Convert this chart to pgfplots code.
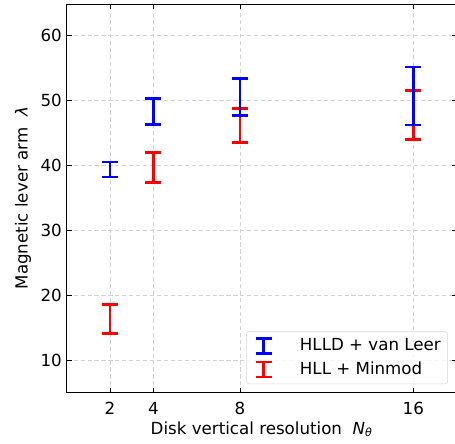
\documentclass[border=0pt]{standalone}
\usepackage{pgfplots}
\pgfplotsset{compat=1.18}
\usepackage{fontspec}
\setmainfont{DejaVu Sans}
\pgfplotstableread{
x y e
2 39.35 1.15
4 48.3 2.0
8 50.475 2.875
16 50.65 4.45
}\blue
\pgfplotstableread{
x y e
2 16.425 2.225
4 39.7 2.3
8 46.125 2.625
16 47.75 3.75
}\red
\begin{document}
\begin{tikzpicture}
\begin{axis}[
  name=ax,
  scale only axis,
  width=280.7pt, height=279.6pt,
  xmin=0, xmax=18, ymin=5.15, ymax=64.76,
  xtick={2,4,8,16}, ytick={10,20,30,40,50,60},
  tick align=inside, tick pos=both,
  major tick length=3.5pt,
  every tick/.style={black, line width=0.6pt},
  axis line style={line width=0.6pt},
  grid=major,
  grid style={gray!35, line width=0.6pt, dash pattern=on 3pt off 2pt},
  /pgf/number format/assume math mode=true,
  tick label style={font=\fontsize{12}{14}\selectfont},
  xticklabel style={yshift=-3.4pt},
  label style={font=\fontsize{12}{14}\selectfont},
  xlabel={Disk vertical resolution\ \ {\itshape N}\textsubscript{\itshape θ}},
  ylabel={Magnetic lever arm\ \ {\itshape λ}},
  x label style={at={(axis description cs:0.5,-0.0945)}, anchor=center},
  y label style={at={(axis description cs:-0.112,0.5)}, anchor=center},
  reverse legend,
  legend style={at={(1,0)}, anchor=south east, xshift=-6.2pt, yshift=6pt,
    draw=gray!30, rounded corners=2pt, fill=white, fill opacity=0.8, text opacity=1,
    font=\fontsize{12}{14}\selectfont, inner sep=3pt, row sep=2.6pt},
  legend cell align=left,
  legend image code/.code={
    \path (0pt,0pt) -- (33.6pt,0pt);
    \draw[line width=2pt] (9.6pt,-5.4pt) -- (9.6pt,5.4pt);
    \draw[line width=2pt] (3.8pt,-5.4pt) -- (15.4pt,-5.4pt);
    \draw[line width=2pt] (3.8pt,5.4pt) -- (15.4pt,5.4pt);
  },
]
\addplot[red, draw=none, mark=none,
  error bars/.cd, y dir=both, y explicit,
  error bar style={line width=2pt, red, solid},
  error mark options={rotate=90, mark size=5.8pt, line width=2pt, red}]
  table[x=x, y=y, y error=e]{\red};
\addlegendentry{HLL + Minmod}
\addplot[blue, draw=none, mark=none,
  error bars/.cd, y dir=both, y explicit,
  error bar style={line width=2pt, blue, solid},
  error mark options={rotate=90, mark size=5.8pt, line width=2pt, blue}]
  table[x=x, y=y, y error=e]{\blue};
\addlegendentry{HLLD + van Leer}
\end{axis}
\pgfresetboundingbox
\path ([xshift=-48pt,yshift=-36.5pt]ax.south west) rectangle ([xshift=-1.15pt,yshift=2.9pt]ax.north east);
\end{tikzpicture}
\end{document}
